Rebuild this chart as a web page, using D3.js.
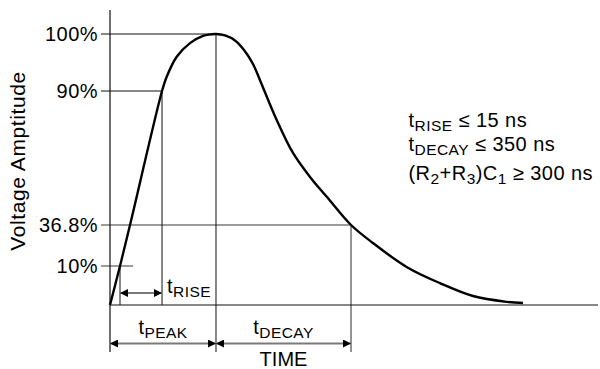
<!DOCTYPE html>
<html>
<head>
<meta charset="utf-8">
<script src="https://cdn.jsdelivr.net/npm/d3@7"></script>
<style>
  html, body { margin: 0; padding: 0; background: #fff; }
  svg { display: block; }
  text { font-family: "Liberation Sans", Arial, Helvetica, sans-serif; fill: #000; }
</style>
</head>
<body>
<svg id="chart" width="600" height="369"></svg>
<script>
// ---------------- data ----------------
// pulse waveform (time in arbitrary units, amplitude in % of peak)
const curveTime = [0, 2.05, 4.10, 10.66, 11.62, 13.67, 16.39, 19.06, 20.29, 21.72, 23.57, 25.61, 27.46, 29.30, 30.74,
                   34.16, 37.50, 40.98, 44.47, 49.39, 53.89, 60.86, 67.62, 74.39, 81.35, 84.63];
const curveAmp  = [0, 10, 36.8, 90, 92.5, 96.0, 98.4, 99.65, 99.9, 100, 99.74, 98.86, 97.19, 94.74, 91.9,
                   78.5, 65.4, 55.9, 47.9, 36.8, 25.0, 9.7, 5.6, 2.3, 0.8, 0.5];

// amplitude reference levels (y tick labels)
const levelValues = [10, 36.8, 90, 100];
const levelLabels = ["10%", "36.8%", "90%", "100%"];

// characteristic instants on the time axis
const markerNames = ["rise10", "rise90", "peak", "decay"];
const markerTimes = [2.05, 10.66, 21.72, 49.39];

// axis titles
const yTitle = "Voltage Amptitude";
const xTitle = "TIME";

// interval labels: [main, subscript]
const riseLabel  = ["t", "RISE"];
const peakLabel  = ["t", "PEAK"];
const decayLabel = ["t", "DECAY"];

// specification text lines: [text, isSubscript]
const specLines = [
  [["t", 0], ["RISE", 1], [" \u2264 15 ns", 0]],
  [["t", 0], ["DECAY", 1], [" \u2264 350 ns", 0]],
  [["(R", 0], ["2", 1], ["+R", 0], ["3", 1], [")C", 0], ["1", 1], [" \u2265 300 ns", 0]]
];

// ---------------- layout ----------------
const svg = d3.select("#chart");
const M = {};
markerNames.forEach((n, i) => M[n] = markerTimes[i]);

const x = d3.scaleLinear().domain([0, 100]).range([110, 598]);
// schematic (non-uniform) amplitude axis
const y = d3.scaleLinear().domain([0, 10, 36.8, 90, 100]).range([305, 266, 225, 91, 34]);

const axisX = x(0);
const tickLeft = 101;
const axisTop = 10;
const axisBottom = 352;
const riseArrowY = 293;
const bottomArrowY = 343.5;

const dark = "#111";
const gray = "#7a7a7a";
const mainSize = 20, subSize = 15.5, subShift = 4, spacing = 0.45;

function hline(x1, x2, yy, color, w) {
  svg.append("line").attr("x1", x1).attr("x2", x2).attr("y1", yy).attr("y2", yy)
    .attr("stroke", color).attr("stroke-width", w);
}
function vline(xx, y1, y2, color, w) {
  svg.append("line").attr("x1", xx).attr("x2", xx).attr("y1", y1).attr("y2", y2)
    .attr("stroke", color).attr("stroke-width", w);
}
function richText(parts, xx, yy, anchor) {
  const t = svg.append("text").attr("x", xx).attr("y", yy)
    .attr("text-anchor", anchor || "start").attr("font-size", mainSize)
    .attr("letter-spacing", spacing).attr("xml:space", "preserve");
  let cur = 0;
  parts.forEach(([s, sub]) => {
    const target = sub ? subShift : 0;
    t.append("tspan").attr("dy", target - cur).attr("font-size", sub ? subSize : mainSize)
      .style("white-space", "pre").text(s);
    cur = target;
  });
  return t;
}

// arrow marker
const defs = svg.append("defs");
defs.append("marker").attr("id", "arr")
  .attr("viewBox", "0 0 10 10").attr("refX", 10).attr("refY", 5)
  .attr("markerUnits", "userSpaceOnUse").attr("markerWidth", 13).attr("markerHeight", 8)
  .attr("orient", "auto-start-reverse")
  .append("path").attr("d", "M0,0 L10,5 L0,10 Z").attr("fill", "#000");

// ---------------- guides ----------------
hline(tickLeft, x(M.peak), y(100), dark, 1);
hline(tickLeft, x(M.rise90), y(90), dark, 1);
hline(tickLeft, x(M.decay), y(36.8), gray, 1.6);
hline(tickLeft, x(M.rise10) + 13, y(10), gray, 1.6);

vline(x(M.rise10), y(10), y(0), dark, 1);
vline(x(M.rise90), y(90), y(0), dark, 1);
vline(x(M.peak), y(100), axisBottom, dark, 1);
vline(x(M.decay), y(36.8), axisBottom, gray, 1.6);

// axes
vline(axisX, axisTop, axisBottom, dark, 1.2);
hline(axisX, x(100), y(0), dark, 1.2);

// ---------------- waveform ----------------
const pts = curveTime.map((t, i) => [t, curveAmp[i]]);
svg.append("path")
  .datum(pts)
  .attr("fill", "none").attr("stroke", "#000").attr("stroke-width", 2.4)
  .attr("stroke-linejoin", "round")
  .attr("d", d3.line().x(d => x(d[0])).y(d => y(d[1])).curve(d3.curveCatmullRom.alpha(0.5)));

// ---------------- arrows ----------------
function arrow(x1, x2, yy) {
  svg.append("line").attr("x1", x1).attr("x2", x2).attr("y1", yy).attr("y2", yy)
    .attr("stroke", gray).attr("stroke-width", 2)
    .attr("marker-start", "url(#arr)").attr("marker-end", "url(#arr)");
}
arrow(x(M.rise10), x(M.rise90), riseArrowY);
arrow(x(0), x(M.peak), bottomArrowY);
arrow(x(M.peak), x(M.decay), bottomArrowY);

// ---------------- text ----------------
levelValues.forEach((v, i) => {
  svg.append("text").attr("x", tickLeft - 3).attr("y", y(v)).attr("dy", "0.36em")
    .attr("text-anchor", "end").attr("font-size", mainSize).attr("letter-spacing", spacing)
    .text(levelLabels[i]);
});

svg.append("text").attr("transform", `translate(25,161) rotate(-90)`)
  .attr("text-anchor", "middle").attr("font-size", 21).attr("letter-spacing", 0.6).text(yTitle);

svg.append("text").attr("x", (x(M.peak) + x(M.decay)) / 2).attr("y", 366)
  .attr("text-anchor", "middle").attr("font-size", mainSize).text(xTitle);

richText([[riseLabel[0], 0], [riseLabel[1], 1]], x(M.rise90) + 5, riseArrowY, "start");
richText([[peakLabel[0], 0], [peakLabel[1], 1]], (x(0) + x(M.peak)) / 2, 333.5, "middle");
richText([[decayLabel[0], 0], [decayLabel[1], 1]], (x(M.peak) + x(M.decay)) / 2, 333.5, "middle");

const specY = [126.7, 150.7, 180];
specLines.forEach((parts, i) => richText(parts, 408.5, specY[i], "start"));
</script>
</body>
</html>
